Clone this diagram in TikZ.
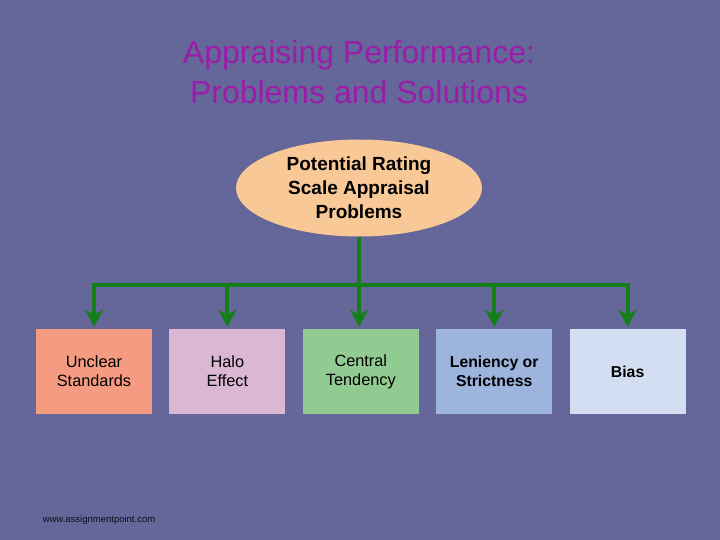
\documentclass[tikz,border=0pt]{standalone}
\usepackage{fontspec}
\setmainfont{Liberation Sans}
\usetikzlibrary{arrows.meta,positioning,shapes.geometric}
\definecolor{slate}{HTML}{656699}
\definecolor{plum}{HTML}{9C1CAA}
\definecolor{peach}{HTML}{F8C896}
\definecolor{salmon}{HTML}{F49B81}
\definecolor{mauve}{HTML}{DBB7D4}
\definecolor{mint}{HTML}{92CB92}
\definecolor{sky}{HTML}{9DB4DD}
\definecolor{mist}{HTML}{D4DEF3}
\definecolor{leaf}{HTML}{147E18}

\begin{document}
\begin{tikzpicture}[x=1pt,y=-1pt,
  bx/.style={fill=#1,draw=none,minimum width=116pt,minimum height=85pt,inner sep=0pt,align=center,
    font=\fontsize{16.3}{19}\selectfont},
  bxb/.style={bx=#1,font=\fontsize{15.8}{19}\selectfont\bfseries},
  ln/.style={draw=leaf,line width=4pt},
  ar/.style={ln,-{Stealth[width=18pt,length=17pt,inset=5pt]}}]

\useasboundingbox[fill=slate] (0,0) rectangle (720,540);

\node[text=plum,align=center,font=\fontsize{32}{40}\selectfont] (title) at (359,72)
 {Appraising Performance:\\Problems and Solutions};

\node[ellipse,fill=peach,minimum width=246pt,minimum height=97pt,inner sep=0pt,align=center,
  font=\fontsize{19}{24}\selectfont\bfseries] (prob) at (359,188)
 {Potential Rating\\Scale Appraisal\\Problems};

\node[bx=salmon] (b1) at (94,371.5) {Unclear\\Standards};
\node[bx=mauve,right=17pt of b1] (b2) {Halo\\Effect};
\node[bx=mint,right=17pt of b2] (b3) {Central\\Tendency};
\node[bxb=sky,right=17pt of b3] (b4) {Leniency or\\Strictness};
\node[bxb=mist,right=17pt of b4] (b5) {Bias};

\coordinate (bus) at (359,285);
\draw[ln,line cap=rect] (bus -| b1.north) -- (bus -| b5.north);
\draw[ar] (prob.south) -- ([yshift=2pt]prob.south |- b3.north);
\foreach \b in {b1,b2,b4,b5}
  \draw[ar] (bus -| \b.north) -- ([yshift=2pt]\b.north);

\node[text=black!85!slate,font=\fontsize{9.5}{11}\selectfont] (site) at (99,520) {www.assignmentpoint.com};
\end{tikzpicture}
\end{document}
